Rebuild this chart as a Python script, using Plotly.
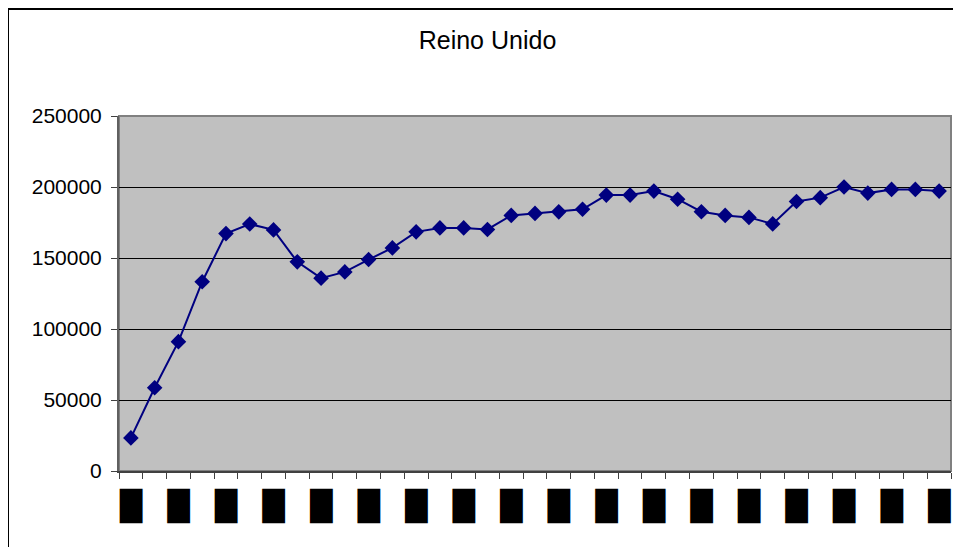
import plotly.graph_objects as go

# ---- data ----
title_text = "Reino Unido"
categories = [str(i) for i in range(1, 36)]
values = [23300, 58600, 91100, 133300, 167200, 173900, 169800, 147300, 135800, 140200,
          148900, 157100, 168400, 171200, 171200, 170100, 180000, 181400, 182500, 184300,
          194300, 194300, 197100, 191400, 182600, 180000, 178600, 174000, 189800, 192500,
          200000, 195700, 198300, 198300, 197100]
# x tick labels in the reference are rendered as solid black blocks, one every second category
tick_labels = ["█" if i % 2 == 0 else "" for i in range(len(categories))]
y_ticks = [0, 50000, 100000, 150000, 200000, 250000]

OFF = 8  # page body margin offset
W, H = 961 - OFF, 547 - OFF
L, R, T, B = 119 - OFF, 10, 116 - OFF, 76
pw, ph = W - L - R, H - T - B

def px_x(p):  # reference page pixel -> paper
    return (p - OFF - L) / pw

def px_y(p):
    return (H - B - (p - OFF)) / ph

fig = go.Figure()
fig.add_trace(go.Scatter(
    x=categories, y=values, mode="lines+markers",
    line=dict(color="#000080", width=2),
    marker=dict(symbol="diamond", size=12, color="#000080"),
    showlegend=False, cliponaxis=False,
))

fig.update_layout(
    width=W, height=H,
    margin=dict(l=L, r=R, t=T, b=B),
    paper_bgcolor="white",
    plot_bgcolor="#C0C0C0",
    font=dict(family="Liberation Sans, Arial, sans-serif", color="black", size=21),
    title=dict(text=title_text, x=(487.5 - OFF) / W, xref="container", xanchor="center",
               y=1 - (40 - OFF) / H, yref="container", yanchor="middle",
               font=dict(size=25, family="Liberation Sans, Arial, sans-serif", color="black")),
    xaxis=dict(
        type="category", range=[-0.5, len(categories) - 0.5],
        tickmode="array", tickvals=categories, ticktext=tick_labels,
        tickson="boundaries", ticks="outside", ticklen=6, tickcolor="#404040",
        showgrid=False, showline=True, linecolor="#404040", linewidth=2,
        tickangle=0, ticklabelstandoff=8,
        tickfont=dict(family="DejaVu Sans", size=29, color="black"),
        fixedrange=True,
    ),
    yaxis=dict(
        range=[0, 250000], tickvals=y_ticks, ticktext=[str(v) for v in y_ticks],
        ticks="outside", ticklen=6, tickcolor="#404040",
        showgrid=True, gridcolor="black", gridwidth=1,
        showline=True, linecolor="#606060", linewidth=2,
        zeroline=False, ticklabelstandoff=5,
        tickfont=dict(size=21),
        fixedrange=True,
    ),
    shapes=[
        dict(type="rect", xref="paper", yref="paper", x0=0, y0=0, x1=1, y1=1,
             line=dict(color="#808080", width=2), layer="below"),
        dict(type="rect", xref="paper", yref="paper",
             x0=px_x(8), y0=px_y(560), x1=px_x(975), y1=px_y(9),
             line=dict(color="black", width=2)),
    ],
)

fig.write_html("out.html")
